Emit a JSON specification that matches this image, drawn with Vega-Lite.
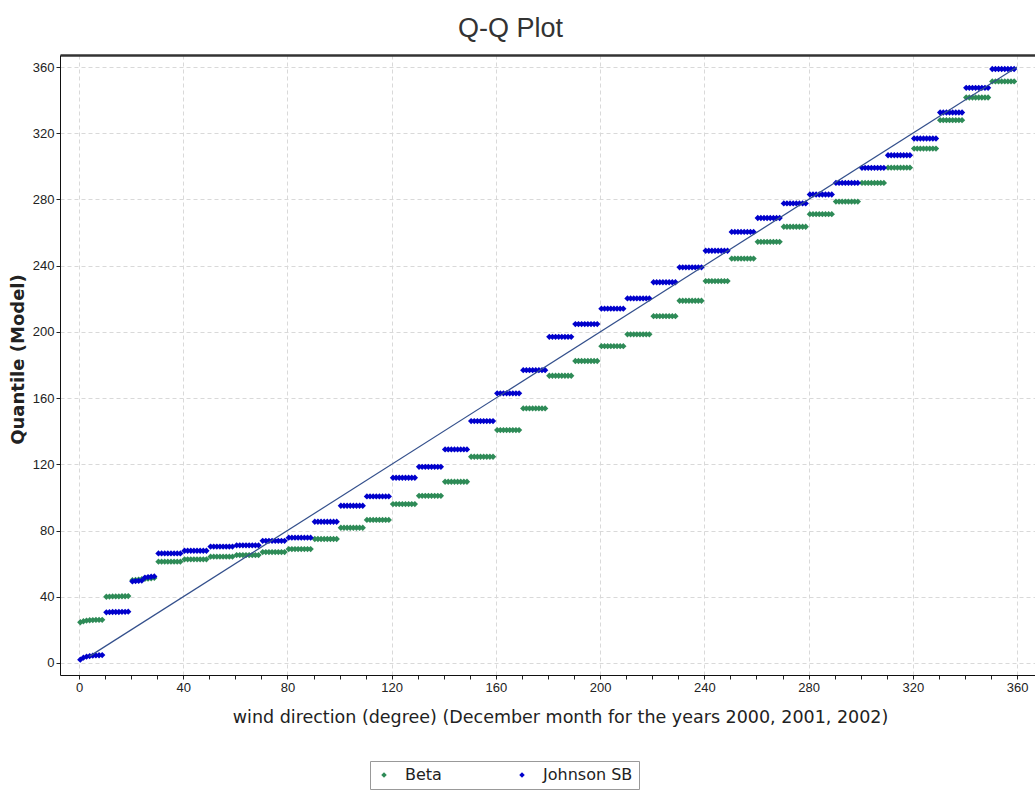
{
  "$schema": "https://vega.github.io/schema/vega-lite/v6.json",
  "width": 975,
  "height": 620,
  "autosize": {"type": "none"},
  "padding": {"left": 60, "top": 55, "right": 0, "bottom": 119},
  "background": "white",
  "title": {"text": "Q-Q Plot", "fontSize": 27, "font": "Liberation Sans", "fontWeight": "normal", "color": "#333333", "anchor": "middle", "dx": -37, "offset": 12},
  "config": {
    "view": {"stroke": null},
    "axis": {
      "labelFont": "Liberation Sans", "labelFontSize": 13, "labelColor": "#222222",
      "tickColor": "#222222", "domainColor": "#111111", "tickSize": 4,
      "gridColor": "#d9d9d9", "gridDash": [4, 3], "titleColor": "#222222",
      "labelFlush": false, "labelOverlap": false
    }
  },
  "layer": [
    {
      "data": {"values": [
        {"d":0.5,"Beta":24.6,"Johnson SB":2.0},{"d":1.7,"Beta":25.2,"Johnson SB":3.2},{"d":2.9,"Beta":25.6,"Johnson SB":3.8},{"d":4.1,"Beta":25.8,"Johnson SB":4.2},{"d":5.3,"Beta":25.9,"Johnson SB":4.4},{"d":6.5,"Beta":26.0,"Johnson SB":4.6},{"d":7.7,"Beta":26.0,"Johnson SB":4.7},{"d":8.9,"Beta":26.1,"Johnson SB":4.8},
        {"d":10.5,"Beta":40.0,"Johnson SB":30.6},{"d":11.7,"Beta":40.1,"Johnson SB":30.7},{"d":12.9,"Beta":40.2,"Johnson SB":30.8},{"d":14.1,"Beta":40.2,"Johnson SB":30.8},{"d":15.3,"Beta":40.2,"Johnson SB":30.8},{"d":16.5,"Beta":40.3,"Johnson SB":30.9},{"d":17.7,"Beta":40.3,"Johnson SB":30.9},{"d":18.9,"Beta":40.4,"Johnson SB":31.0},
        {"d":20.5,"Beta":50.0,"Johnson SB":49.3},{"d":21.7,"Beta":50.2,"Johnson SB":49.5},{"d":22.9,"Beta":50.4,"Johnson SB":49.6},{"d":24.1,"Beta":50.6,"Johnson SB":49.8},{"d":25.3,"Beta":50.8,"Johnson SB":51.6},{"d":26.5,"Beta":51.0,"Johnson SB":51.9},{"d":27.7,"Beta":51.2,"Johnson SB":52.1},{"d":28.9,"Beta":51.4,"Johnson SB":52.3},
        {"d":30.5,"Beta":61.2,"Johnson SB":66.2},{"d":31.7,"Beta":61.2,"Johnson SB":66.2},{"d":32.9,"Beta":61.2,"Johnson SB":66.2},{"d":34.1,"Beta":61.2,"Johnson SB":66.2},{"d":35.3,"Beta":61.2,"Johnson SB":66.2},{"d":36.5,"Beta":61.2,"Johnson SB":66.2},{"d":37.7,"Beta":61.2,"Johnson SB":66.2},{"d":38.9,"Beta":61.2,"Johnson SB":66.2},
        {"d":40.5,"Beta":62.6,"Johnson SB":67.8},{"d":41.7,"Beta":62.6,"Johnson SB":67.8},{"d":42.9,"Beta":62.6,"Johnson SB":67.8},{"d":44.1,"Beta":62.6,"Johnson SB":67.8},{"d":45.3,"Beta":62.6,"Johnson SB":67.8},{"d":46.5,"Beta":62.6,"Johnson SB":67.8},{"d":47.7,"Beta":62.6,"Johnson SB":67.8},{"d":48.9,"Beta":62.6,"Johnson SB":67.8},
        {"d":50.5,"Beta":64.2,"Johnson SB":70.3},{"d":51.7,"Beta":64.2,"Johnson SB":70.3},{"d":52.9,"Beta":64.2,"Johnson SB":70.3},{"d":54.1,"Beta":64.2,"Johnson SB":70.3},{"d":55.3,"Beta":64.2,"Johnson SB":70.3},{"d":56.5,"Beta":64.2,"Johnson SB":70.3},{"d":57.7,"Beta":64.2,"Johnson SB":70.3},{"d":58.9,"Beta":64.2,"Johnson SB":70.3},
        {"d":60.5,"Beta":65.2,"Johnson SB":71.1},{"d":61.7,"Beta":65.2,"Johnson SB":71.1},{"d":62.9,"Beta":65.2,"Johnson SB":71.1},{"d":64.1,"Beta":65.2,"Johnson SB":71.1},{"d":65.3,"Beta":65.2,"Johnson SB":71.1},{"d":66.5,"Beta":65.2,"Johnson SB":71.1},{"d":67.7,"Beta":65.2,"Johnson SB":71.1},{"d":68.9,"Beta":65.2,"Johnson SB":71.1},
        {"d":70.5,"Beta":67.0,"Johnson SB":73.8},{"d":71.7,"Beta":67.0,"Johnson SB":73.8},{"d":72.9,"Beta":67.0,"Johnson SB":73.8},{"d":74.1,"Beta":67.0,"Johnson SB":73.8},{"d":75.3,"Beta":67.0,"Johnson SB":73.8},{"d":76.5,"Beta":67.0,"Johnson SB":73.8},{"d":77.7,"Beta":67.0,"Johnson SB":73.8},{"d":78.9,"Beta":67.0,"Johnson SB":73.8},
        {"d":80.5,"Beta":68.8,"Johnson SB":75.7},{"d":81.7,"Beta":68.8,"Johnson SB":75.7},{"d":82.9,"Beta":68.8,"Johnson SB":75.7},{"d":84.1,"Beta":68.8,"Johnson SB":75.7},{"d":85.3,"Beta":68.8,"Johnson SB":75.7},{"d":86.5,"Beta":68.8,"Johnson SB":75.7},{"d":87.7,"Beta":68.8,"Johnson SB":75.7},{"d":88.9,"Beta":68.8,"Johnson SB":75.7},
        {"d":90.5,"Beta":74.9,"Johnson SB":85.3},{"d":91.7,"Beta":74.9,"Johnson SB":85.3},{"d":92.9,"Beta":74.9,"Johnson SB":85.3},{"d":94.1,"Beta":74.9,"Johnson SB":85.3},{"d":95.3,"Beta":74.9,"Johnson SB":85.3},{"d":96.5,"Beta":74.9,"Johnson SB":85.3},{"d":97.7,"Beta":74.9,"Johnson SB":85.3},{"d":98.9,"Beta":74.9,"Johnson SB":85.3},
        {"d":100.5,"Beta":81.7,"Johnson SB":95.0},{"d":101.7,"Beta":81.7,"Johnson SB":95.0},{"d":102.9,"Beta":81.7,"Johnson SB":95.0},{"d":104.1,"Beta":81.7,"Johnson SB":95.0},{"d":105.3,"Beta":81.7,"Johnson SB":95.0},{"d":106.5,"Beta":81.7,"Johnson SB":95.0},{"d":107.7,"Beta":81.7,"Johnson SB":95.0},{"d":108.9,"Beta":81.7,"Johnson SB":95.0},
        {"d":110.5,"Beta":86.4,"Johnson SB":100.6},{"d":111.7,"Beta":86.4,"Johnson SB":100.6},{"d":112.9,"Beta":86.4,"Johnson SB":100.6},{"d":114.1,"Beta":86.4,"Johnson SB":100.6},{"d":115.3,"Beta":86.4,"Johnson SB":100.6},{"d":116.5,"Beta":86.4,"Johnson SB":100.6},{"d":117.7,"Beta":86.4,"Johnson SB":100.6},{"d":118.9,"Beta":86.4,"Johnson SB":100.6},
        {"d":120.5,"Beta":96.0,"Johnson SB":111.9},{"d":121.7,"Beta":96.0,"Johnson SB":111.9},{"d":122.9,"Beta":96.0,"Johnson SB":111.9},{"d":124.1,"Beta":96.0,"Johnson SB":111.9},{"d":125.3,"Beta":96.0,"Johnson SB":111.9},{"d":126.5,"Beta":96.0,"Johnson SB":111.9},{"d":127.7,"Beta":96.0,"Johnson SB":111.9},{"d":128.9,"Beta":96.0,"Johnson SB":111.9},
        {"d":130.5,"Beta":101.0,"Johnson SB":118.5},{"d":131.7,"Beta":101.0,"Johnson SB":118.5},{"d":132.9,"Beta":101.0,"Johnson SB":118.5},{"d":134.1,"Beta":101.0,"Johnson SB":118.5},{"d":135.3,"Beta":101.0,"Johnson SB":118.5},{"d":136.5,"Beta":101.0,"Johnson SB":118.5},{"d":137.7,"Beta":101.0,"Johnson SB":118.5},{"d":138.9,"Beta":101.0,"Johnson SB":118.5},
        {"d":140.5,"Beta":109.5,"Johnson SB":129.0},{"d":141.7,"Beta":109.5,"Johnson SB":129.0},{"d":142.9,"Beta":109.5,"Johnson SB":129.0},{"d":144.1,"Beta":109.5,"Johnson SB":129.0},{"d":145.3,"Beta":109.5,"Johnson SB":129.0},{"d":146.5,"Beta":109.5,"Johnson SB":129.0},{"d":147.7,"Beta":109.5,"Johnson SB":129.0},{"d":148.9,"Beta":109.5,"Johnson SB":129.0},
        {"d":150.5,"Beta":124.6,"Johnson SB":146.1},{"d":151.7,"Beta":124.6,"Johnson SB":146.1},{"d":152.9,"Beta":124.6,"Johnson SB":146.1},{"d":154.1,"Beta":124.6,"Johnson SB":146.1},{"d":155.3,"Beta":124.6,"Johnson SB":146.1},{"d":156.5,"Beta":124.6,"Johnson SB":146.1},{"d":157.7,"Beta":124.6,"Johnson SB":146.1},{"d":158.9,"Beta":124.6,"Johnson SB":146.1},
        {"d":160.5,"Beta":140.7,"Johnson SB":162.9},{"d":161.7,"Beta":140.7,"Johnson SB":162.9},{"d":162.9,"Beta":140.7,"Johnson SB":162.9},{"d":164.1,"Beta":140.7,"Johnson SB":162.9},{"d":165.3,"Beta":140.7,"Johnson SB":162.9},{"d":166.5,"Beta":140.7,"Johnson SB":162.9},{"d":167.7,"Beta":140.7,"Johnson SB":162.9},{"d":168.9,"Beta":140.7,"Johnson SB":162.9},
        {"d":170.5,"Beta":153.8,"Johnson SB":176.9},{"d":171.7,"Beta":153.8,"Johnson SB":176.9},{"d":172.9,"Beta":153.8,"Johnson SB":176.9},{"d":174.1,"Beta":153.8,"Johnson SB":176.9},{"d":175.3,"Beta":153.8,"Johnson SB":176.9},{"d":176.5,"Beta":153.8,"Johnson SB":176.9},{"d":177.7,"Beta":153.8,"Johnson SB":176.9},{"d":178.9,"Beta":153.8,"Johnson SB":176.9},
        {"d":180.5,"Beta":173.5,"Johnson SB":197.0},{"d":181.7,"Beta":173.5,"Johnson SB":197.0},{"d":182.9,"Beta":173.5,"Johnson SB":197.0},{"d":184.1,"Beta":173.5,"Johnson SB":197.0},{"d":185.3,"Beta":173.5,"Johnson SB":197.0},{"d":186.5,"Beta":173.5,"Johnson SB":197.0},{"d":187.7,"Beta":173.5,"Johnson SB":197.0},{"d":188.9,"Beta":173.5,"Johnson SB":197.0},
        {"d":190.5,"Beta":182.4,"Johnson SB":204.7},{"d":191.7,"Beta":182.4,"Johnson SB":204.7},{"d":192.9,"Beta":182.4,"Johnson SB":204.7},{"d":194.1,"Beta":182.4,"Johnson SB":204.7},{"d":195.3,"Beta":182.4,"Johnson SB":204.7},{"d":196.5,"Beta":182.4,"Johnson SB":204.7},{"d":197.7,"Beta":182.4,"Johnson SB":204.7},{"d":198.9,"Beta":182.4,"Johnson SB":204.7},
        {"d":200.5,"Beta":191.4,"Johnson SB":214.0},{"d":201.7,"Beta":191.4,"Johnson SB":214.0},{"d":202.9,"Beta":191.4,"Johnson SB":214.0},{"d":204.1,"Beta":191.4,"Johnson SB":214.0},{"d":205.3,"Beta":191.4,"Johnson SB":214.0},{"d":206.5,"Beta":191.4,"Johnson SB":214.0},{"d":207.7,"Beta":191.4,"Johnson SB":214.0},{"d":208.9,"Beta":191.4,"Johnson SB":214.0},
        {"d":210.5,"Beta":198.5,"Johnson SB":220.2},{"d":211.7,"Beta":198.5,"Johnson SB":220.2},{"d":212.9,"Beta":198.5,"Johnson SB":220.2},{"d":214.1,"Beta":198.5,"Johnson SB":220.2},{"d":215.3,"Beta":198.5,"Johnson SB":220.2},{"d":216.5,"Beta":198.5,"Johnson SB":220.2},{"d":217.7,"Beta":198.5,"Johnson SB":220.2},{"d":218.9,"Beta":198.5,"Johnson SB":220.2},
        {"d":220.5,"Beta":209.5,"Johnson SB":230.0},{"d":221.7,"Beta":209.5,"Johnson SB":230.0},{"d":222.9,"Beta":209.5,"Johnson SB":230.0},{"d":224.1,"Beta":209.5,"Johnson SB":230.0},{"d":225.3,"Beta":209.5,"Johnson SB":230.0},{"d":226.5,"Beta":209.5,"Johnson SB":230.0},{"d":227.7,"Beta":209.5,"Johnson SB":230.0},{"d":228.9,"Beta":209.5,"Johnson SB":230.0},
        {"d":230.5,"Beta":218.8,"Johnson SB":239.0},{"d":231.7,"Beta":218.8,"Johnson SB":239.0},{"d":232.9,"Beta":218.8,"Johnson SB":239.0},{"d":234.1,"Beta":218.8,"Johnson SB":239.0},{"d":235.3,"Beta":218.8,"Johnson SB":239.0},{"d":236.5,"Beta":218.8,"Johnson SB":239.0},{"d":237.7,"Beta":218.8,"Johnson SB":239.0},{"d":238.9,"Beta":218.8,"Johnson SB":239.0},
        {"d":240.5,"Beta":230.7,"Johnson SB":249.0},{"d":241.7,"Beta":230.7,"Johnson SB":249.0},{"d":242.9,"Beta":230.7,"Johnson SB":249.0},{"d":244.1,"Beta":230.7,"Johnson SB":249.0},{"d":245.3,"Beta":230.7,"Johnson SB":249.0},{"d":246.5,"Beta":230.7,"Johnson SB":249.0},{"d":247.7,"Beta":230.7,"Johnson SB":249.0},{"d":248.9,"Beta":230.7,"Johnson SB":249.0},
        {"d":250.5,"Beta":244.3,"Johnson SB":260.4},{"d":251.7,"Beta":244.3,"Johnson SB":260.4},{"d":252.9,"Beta":244.3,"Johnson SB":260.4},{"d":254.1,"Beta":244.3,"Johnson SB":260.4},{"d":255.3,"Beta":244.3,"Johnson SB":260.4},{"d":256.5,"Beta":244.3,"Johnson SB":260.4},{"d":257.7,"Beta":244.3,"Johnson SB":260.4},{"d":258.9,"Beta":244.3,"Johnson SB":260.4},
        {"d":260.5,"Beta":254.4,"Johnson SB":268.8},{"d":261.7,"Beta":254.4,"Johnson SB":268.8},{"d":262.9,"Beta":254.4,"Johnson SB":268.8},{"d":264.1,"Beta":254.4,"Johnson SB":268.8},{"d":265.3,"Beta":254.4,"Johnson SB":268.8},{"d":266.5,"Beta":254.4,"Johnson SB":268.8},{"d":267.7,"Beta":254.4,"Johnson SB":268.8},{"d":268.9,"Beta":254.4,"Johnson SB":268.8},
        {"d":270.5,"Beta":263.5,"Johnson SB":277.6},{"d":271.7,"Beta":263.5,"Johnson SB":277.6},{"d":272.9,"Beta":263.5,"Johnson SB":277.6},{"d":274.1,"Beta":263.5,"Johnson SB":277.6},{"d":275.3,"Beta":263.5,"Johnson SB":277.6},{"d":276.5,"Beta":263.5,"Johnson SB":277.6},{"d":277.7,"Beta":263.5,"Johnson SB":277.6},{"d":278.9,"Beta":263.5,"Johnson SB":277.6},
        {"d":280.5,"Beta":271.1,"Johnson SB":283.0},{"d":281.7,"Beta":271.1,"Johnson SB":283.0},{"d":282.9,"Beta":271.1,"Johnson SB":283.0},{"d":284.1,"Beta":271.1,"Johnson SB":283.0},{"d":285.3,"Beta":271.1,"Johnson SB":283.0},{"d":286.5,"Beta":271.1,"Johnson SB":283.0},{"d":287.7,"Beta":271.1,"Johnson SB":283.0},{"d":288.9,"Beta":271.1,"Johnson SB":283.0},
        {"d":290.5,"Beta":278.7,"Johnson SB":290.0},{"d":291.7,"Beta":278.7,"Johnson SB":290.0},{"d":292.9,"Beta":278.7,"Johnson SB":290.0},{"d":294.1,"Beta":278.7,"Johnson SB":290.0},{"d":295.3,"Beta":278.7,"Johnson SB":290.0},{"d":296.5,"Beta":278.7,"Johnson SB":290.0},{"d":297.7,"Beta":278.7,"Johnson SB":290.0},{"d":298.9,"Beta":278.7,"Johnson SB":290.0},
        {"d":300.5,"Beta":290.0,"Johnson SB":299.1},{"d":301.7,"Beta":290.0,"Johnson SB":299.1},{"d":302.9,"Beta":290.0,"Johnson SB":299.1},{"d":304.1,"Beta":290.0,"Johnson SB":299.1},{"d":305.3,"Beta":290.0,"Johnson SB":299.1},{"d":306.5,"Beta":290.0,"Johnson SB":299.1},{"d":307.7,"Beta":290.0,"Johnson SB":299.1},{"d":308.9,"Beta":290.0,"Johnson SB":299.1},
        {"d":310.5,"Beta":299.2,"Johnson SB":306.7},{"d":311.7,"Beta":299.2,"Johnson SB":306.7},{"d":312.9,"Beta":299.2,"Johnson SB":306.7},{"d":314.1,"Beta":299.2,"Johnson SB":306.7},{"d":315.3,"Beta":299.2,"Johnson SB":306.7},{"d":316.5,"Beta":299.2,"Johnson SB":306.7},{"d":317.7,"Beta":299.2,"Johnson SB":306.7},{"d":318.9,"Beta":299.2,"Johnson SB":306.7},
        {"d":320.5,"Beta":310.7,"Johnson SB":316.8},{"d":321.7,"Beta":310.7,"Johnson SB":316.8},{"d":322.9,"Beta":310.7,"Johnson SB":316.8},{"d":324.1,"Beta":310.7,"Johnson SB":316.8},{"d":325.3,"Beta":310.7,"Johnson SB":316.8},{"d":326.5,"Beta":310.7,"Johnson SB":316.8},{"d":327.7,"Beta":310.7,"Johnson SB":316.8},{"d":328.9,"Beta":310.7,"Johnson SB":316.8},
        {"d":330.5,"Beta":327.9,"Johnson SB":332.5},{"d":331.7,"Beta":327.9,"Johnson SB":332.5},{"d":332.9,"Beta":327.9,"Johnson SB":332.5},{"d":334.1,"Beta":327.9,"Johnson SB":332.5},{"d":335.3,"Beta":327.9,"Johnson SB":332.5},{"d":336.5,"Beta":327.9,"Johnson SB":332.5},{"d":337.7,"Beta":327.9,"Johnson SB":332.5},{"d":338.9,"Beta":327.9,"Johnson SB":332.5},
        {"d":340.5,"Beta":341.6,"Johnson SB":347.4},{"d":341.7,"Beta":341.6,"Johnson SB":347.4},{"d":342.9,"Beta":341.6,"Johnson SB":347.4},{"d":344.1,"Beta":341.6,"Johnson SB":347.4},{"d":345.3,"Beta":341.6,"Johnson SB":347.4},{"d":346.5,"Beta":341.6,"Johnson SB":347.4},{"d":347.7,"Beta":341.6,"Johnson SB":347.4},{"d":348.9,"Beta":341.6,"Johnson SB":347.4},
        {"d":350.5,"Beta":351.3,"Johnson SB":358.8},{"d":351.7,"Beta":351.3,"Johnson SB":358.8},{"d":352.9,"Beta":351.3,"Johnson SB":358.8},{"d":354.1,"Beta":351.3,"Johnson SB":358.8},{"d":355.3,"Beta":351.3,"Johnson SB":358.8},{"d":356.5,"Beta":351.3,"Johnson SB":358.8},{"d":357.7,"Beta":351.3,"Johnson SB":358.8},{"d":358.9,"Beta":351.3,"Johnson SB":358.8}
      ]},
      "transform": [{"fold": ["Beta", "Johnson SB"], "as": ["series", "q"]}],
      "mark": {"type": "point", "filled": true, "shape": "diamond", "size": 40, "opacity": 1},
      "encoding": {
        "x": {"field": "d", "type": "quantitative",
          "scale": {"domain": [-7.29, 366.9], "nice": false, "zero": false},
          "axis": {"orient": "bottom", "values": [0,10,20,30,40,50,60,70,80,90,100,110,120,130,140,150,160,170,180,190,200,210,220,230,240,250,260,270,280,290,300,310,320,330,340,350,360],
            "labelExpr": "datum.value % 40 === 0 ? datum.label : ''",
            "gridOpacity": {"condition": {"test": "datum.value % 40 === 0", "value": 1}, "value": 0},
            "title": "wind direction (degree) (December month for the years 2000, 2001, 2002)",
            "titleFont": "DejaVu Sans", "titleFontSize": 17.5, "titleFontWeight": "normal",
            "titleX": 500, "titleY": 42, "titleBaseline": "middle", "titleAlign": "center"}},
        "y": {"field": "q", "type": "quantitative",
          "scale": {"domain": [-7.25, 367.25], "nice": false, "zero": false},
          "axis": {"values": [0,10,20,30,40,50,60,70,80,90,100,110,120,130,140,150,160,170,180,190,200,210,220,230,240,250,260,270,280,290,300,310,320,330,340,350,360],
            "labelExpr": "datum.value % 40 === 0 ? datum.label : ''",
            "gridOpacity": {"condition": {"test": "datum.value % 40 === 0", "value": 1}, "value": 0},
            "title": "Quantile (Model)", "titleFont": "DejaVu Sans", "titleFontSize": 18, "titleFontWeight": "bold",
            "titleX": -42, "titleY": 304, "titleAngle": -90, "titleBaseline": "middle", "titleAlign": "center"}},
        "color": {"field": "series", "type": "nominal",
          "scale": {"domain": ["Beta", "Johnson SB"], "range": ["#2e8b57", "#0000cc"]},
          "legend": {"orient": "none", "legendX": 310, "legendY": 706, "direction": "horizontal", "columns": 2,
            "title": null, "symbolType": "diamond", "symbolSize": 30, "labelFontSize": 16, "labelFont": "DejaVu Sans",
            "labelColor": "#222222", "strokeColor": "#999999", "padding": 6, "columnPadding": 72, "labelOffset": 13, "labelLimit": 300}},
        "order": {"field": "series", "sort": "ascending"}
      }
    },
    {
      "data": {"values": [{"d": 4, "q": 4}, {"d": 360, "q": 360}]},
      "mark": {"type": "line", "color": "#34508c", "strokeWidth": 1.2},
      "encoding": {
        "x": {"field": "d", "type": "quantitative",
          "axis": {"orient": "top", "labels": false, "ticks": false, "grid": false, "domainColor": "#333333", "domainWidth": 2.5, "title": null}},
        "y": {"field": "q", "type": "quantitative"}
      }
    }
  ],
  "resolve": {"axis": {"x": "independent"}}
}
